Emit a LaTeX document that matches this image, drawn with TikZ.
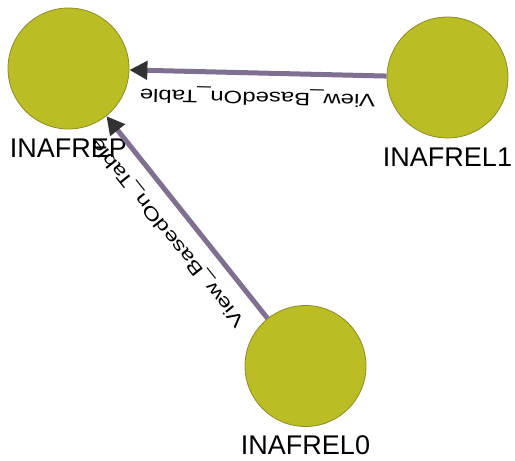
\documentclass[tikz,border=0pt]{standalone}
\usepackage{fontspec}
\setmainfont{Liberation Sans}
\usetikzlibrary{arrows.meta}
\definecolor{nodefill}{RGB}{187,189,37}
\definecolor{nodeline}{RGB}{140,140,40}
\definecolor{edgecol}{RGB}{127,111,145}
\definecolor{tipcol}{RGB}{50,50,50}
\tikzset{
  entity/.style={circle, fill=nodefill, draw=nodeline, line width=0.8pt, minimum size=121pt, inner sep=0pt},
  lab/.style={font=\fontsize{27}{30}\selectfont, text=black, inner sep=0pt},
  rel/.style={line width=5pt, draw=edgecol, -{Triangle[length=18pt,width=18pt,color=tipcol]}},
  elabel/.style={font=\fontsize{18}{20}\selectfont, text=black, inner sep=0pt, sloped, allow upside down, above=13pt, pos=0.5}
}
\begin{document}
\begin{tikzpicture}[x=1pt,y=1pt]
\useasboundingbox (0,0) rectangle (515,461);
\node[entity, label={[lab, label distance=9pt]below:INAFREP}] (rep) at (68.5,392.5) {};
\node[entity, label={[lab, label distance=9pt]below:INAFREL1}] (rel1) at (447.5,383.5) {};
\node[entity, label={[lab, label distance=9pt]below:INAFREL0}] (rel0) at (305.5,95) {};
\draw[rel] (rel1) -- node[elabel] {\scalebox{1.33}[1]{View\_BasedOn\_Table}} (rep);
\draw[rel] (rel0) -- node[elabel] {\scalebox{1.33}[1]{View\_BasedOn\_Table}} (rep);
\end{tikzpicture}
\end{document}
